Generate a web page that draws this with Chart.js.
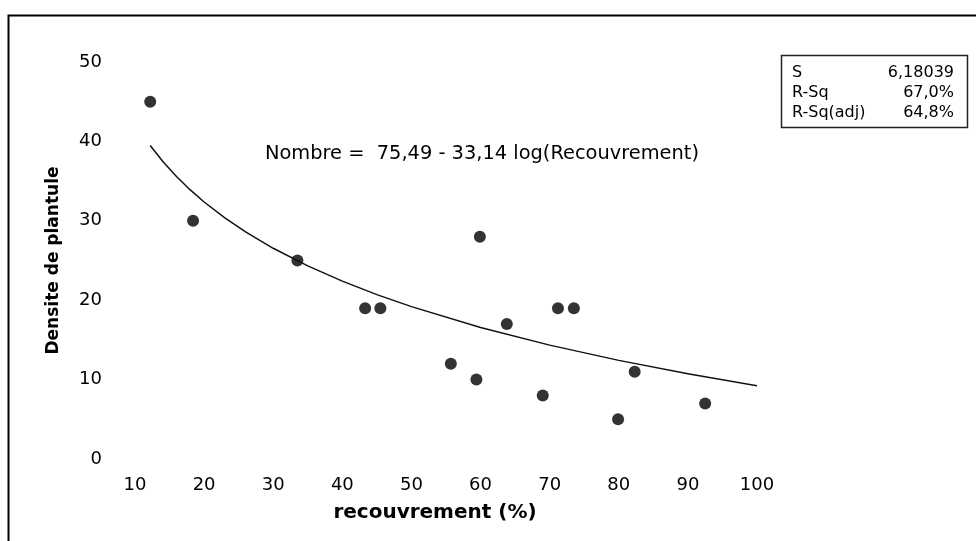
<!DOCTYPE html>
<html>
<head>
<meta charset="utf-8">
<script src="https://cdn.jsdelivr.net/npm/chart.js@4.4.1/dist/chart.umd.min.js"></script>
<style>
  html, body { margin: 0; padding: 0; background: #fff; }
  #wrap { width: 976px; height: 541px; position: relative; }
</style>
</head>
<body>
<div id="wrap"><canvas id="myChart"></canvas></div>
<script>
// observed points: recouvrement (%) vs densite de plantule
const coverValues = [12.2, 18.4, 33.5, 43.3, 45.5, 55.7, 59.4, 59.9, 63.8, 69.0, 71.2, 73.5, 79.9, 82.3, 92.5];
const densityValues = [45, 30, 25, 19, 19, 12, 10, 28, 17, 8, 19, 19, 5, 11, 7];

// fitted curve
const fitX = [12.2, 14, 16, 18, 20, 23, 26, 30, 35, 40, 45, 50, 60, 70, 80, 90, 100];
const fitY = [39.49, 37.51, 35.59, 33.89, 32.37, 30.36, 28.6, 26.54, 24.32, 22.4, 20.7, 19.19, 16.56, 14.34, 12.42, 10.73, 9.21];

// axis ticks
const xTicks = [10, 20, 30, 40, 50, 60, 70, 80, 90, 100];
const yTicks = [0, 10, 20, 30, 40, 50];

// annotation texts
const equationText = "Nombre =  75,49 - 33,14 log(Recouvrement)";
const statLabels = ["S", "R-Sq", "R-Sq(adj)"];
const statValues = ["6,18039", "67,0%", "64,8%"];
const xTitle = "recouvrement (%)";
const yTitle = "Densite de plantule";

Chart.defaults.font.family = "'DejaVu Sans', Verdana, sans-serif";
Chart.defaults.color = "#000";

// SETUP
const pointsData = coverValues.map((x, i) => ({ x: x, y: densityValues[i] }));
const fitData = fitX.map((x, i) => ({ x: x, y: fitY[i] }));

const data = {
  datasets: [
    {
      label: "fit",
      data: fitData,
      showLine: true,
      borderColor: "#111",
      borderWidth: 1.5,
      pointRadius: 0,
      fill: false,
      tension: 0,
    },
    {
      label: "points",
      data: pointsData,
      showLine: false,
      pointRadius: 6,
      pointBackgroundColor: "#333",
      pointBorderColor: "#333",
      pointBorderWidth: 0,
    },
  ],
};

// frame, equation, stats box, x title
const extras = {
  id: "extras",
  afterDraw(chart) {
    const ctx = chart.ctx;
    ctx.save();
    // outer frame (runs past the window on right and bottom)
    ctx.strokeStyle = "#000";
    ctx.lineWidth = 2;
    ctx.strokeRect(8.5, 15.5, 1000, 600);

    // equation
    ctx.fillStyle = "#000";
    ctx.textBaseline = "middle";
    ctx.textAlign = "left";
    ctx.font = "19.4px 'DejaVu Sans'";
    ctx.fillText(equationText, 265, 154);

    // stats box
    ctx.lineWidth = 1.5;
    ctx.strokeStyle = "#222";
    ctx.strokeRect(781.5, 55.5, 186, 72);
    ctx.font = "16px 'DejaVu Sans'";
    const rowY = [73, 93, 113];
    statLabels.forEach((t, i) => {
      ctx.textAlign = "left";
      ctx.fillText(t, 792, rowY[i]);
      ctx.textAlign = "right";
      ctx.fillText(statValues[i], 954, rowY[i]);
    });

    // x axis title
    ctx.textAlign = "center";
    ctx.font = "bold 20px 'DejaVu Sans'";
    ctx.fillText(xTitle, 435, 513);
    ctx.restore();
  },
};

// CONFIG
const config = {
  type: "scatter",
  data,
  options: {
    responsive: true,
    maintainAspectRatio: false,
    animation: false,
    layout: { padding: { top: 62, right: 219, bottom: 0, left: 0 } },
    plugins: {
      legend: { display: false },
      tooltip: { enabled: false },
    },
    scales: {
      x: {
        type: "linear",
        min: xTicks[0],
        max: xTicks[xTicks.length - 1],
        grid: { display: false, drawTicks: false },
        border: { display: false },
        afterBuildTicks: (scale) => {
          scale.ticks = xTicks.map((v) => ({ value: v }));
        },
        afterFit: (scale) => {
          scale.height = 82;
        },
        ticks: {
          padding: 16,
          font: { size: 18 },
          color: "#000",
        },
      },
      y: {
        type: "linear",
        min: yTicks[0],
        max: yTicks[yTicks.length - 1],
        grid: { display: false, drawTicks: false },
        border: { display: false },
        afterBuildTicks: (scale) => {
          scale.ticks = yTicks.map((v) => ({ value: v }));
        },
        afterFit: (scale) => {
          scale.width = 135;
        },
        ticks: {
          padding: 33,
          font: { size: 18 },
          color: "#000",
        },
        title: {
          display: true,
          text: yTitle,
          font: { size: 17, weight: "bold" },
          color: "#000",
          padding: { top: 43, bottom: 0 },
        },
      },
    },
  },
  plugins: [extras],
};

// render init block
const myChart = new Chart(document.getElementById("myChart"), config);
</script>
</body>
</html>
